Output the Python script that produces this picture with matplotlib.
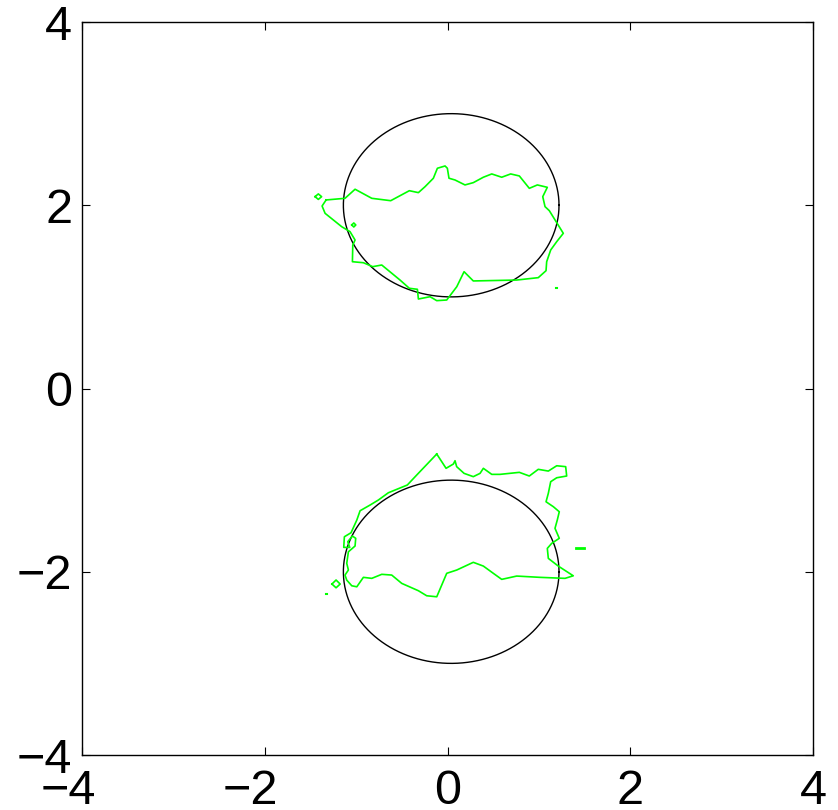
import numpy as np
import matplotlib
matplotlib.use("Agg")
from matplotlib import pyplot as plt
import matplotlib.transforms as mtransforms

plt.rcParams["font.family"] = ["Liberation Sans", "DejaVu Sans"]

# reference circles (centre x, centre y, radius x, radius y)
circle_top = (0.04, 2.0, 1.18, 1.0)
circle_bottom = (0.04, -2.0, 1.18, 1.0)

# upper green contour
top_x = [-1.329, -1.122, -1.012, -0.829, -0.622, -0.418, -0.319, -0.246, -0.155, -0.111,
         -0.027, -0.002, 0.016, 0.082, 0.191, 0.282, 0.392, 0.484, 0.593, 0.691,
         0.786, 0.895, 0.983, 1.092, 1.042, 1.067, 1.114, 1.267, 1.195, 1.129,
         1.085, 1.078, 0.993, 0.757, 0.282, 0.181, 0.101, -0.009, -0.118, -0.191,
         -0.319, -0.330, -0.418, -0.520, -0.720, -0.819, -0.921, -1.041, -1.037, -1.012,
         -1.067, -1.158, -1.249, -1.340, -1.373, -1.329]
top_y = [2.058, 2.076, 2.175, 2.076, 2.050, 2.159, 2.138, 2.203, 2.295, 2.404,
         2.429, 2.404, 2.295, 2.276, 2.222, 2.247, 2.306, 2.342, 2.306, 2.342,
         2.320, 2.185, 2.222, 2.196, 2.094, 1.985, 1.941, 1.694, 1.603, 1.512,
         1.384, 1.286, 1.210, 1.184, 1.174, 1.275, 1.111, 0.966, 0.959, 1.002,
         0.977, 1.083, 1.094, 1.184, 1.348, 1.330, 1.373, 1.384, 1.566, 1.621,
         1.712, 1.766, 1.839, 1.912, 1.992, 2.058]

# lower green contour
bot_x = [-0.118, -0.016, 0.064, 0.082, 0.100, 0.181, 0.282, 0.356, 0.392, 0.484,
         0.574, 0.786, 0.895, 0.993, 1.103, 1.195, 1.293, 1.304, 1.195, 1.129,
         1.103, 1.078, 1.158, 1.223, 1.201, 1.176, 1.223, 1.140, 1.092, 1.103,
         1.212, 1.376, 1.286, 1.012, 0.757, 0.593, 0.501, 0.392, 0.282, 0.101,
         -0.009, -0.118, -0.228, -0.319, -0.501, -0.611, -0.720, -0.829, -0.921, -0.993,
         -1.048, -1.103, -1.122, -1.085, -1.103, -1.085, -1.012, -1.005, -1.041, -1.092,
         -1.070, -1.136, -1.129, -1.056, -0.993, -0.957, -0.848, -0.757, -0.648, -0.440,
         -0.337, -0.118]
bot_y = [-0.715, -0.871, -0.824, -0.788, -0.853, -0.926, -0.962, -0.926, -0.871, -0.937,
         -0.937, -0.915, -0.955, -0.882, -0.901, -0.843, -0.853, -0.955, -0.974, -1.017,
         -1.144, -1.236, -1.290, -1.345, -1.436, -1.526, -1.635, -1.690, -1.745, -1.854,
         -1.938, -2.044, -2.072, -2.061, -2.047, -2.083, -2.017, -1.938, -1.897, -1.981,
         -2.017, -2.273, -2.262, -2.207, -2.127, -2.036, -2.028, -2.072, -2.061, -2.164,
         -2.153, -2.091, -2.036, -1.981, -1.908, -1.782, -1.719, -1.635, -1.610, -1.672,
         -1.734, -1.734, -1.618, -1.574, -1.436, -1.334, -1.272, -1.217, -1.138, -1.053,
         -0.944, -0.715]

# small isolated contour pieces
blob1_x = [-1.450, -1.414, -1.378, -1.414, -1.450]
blob1_y = [2.094, 2.124, 2.094, 2.064, 2.094]
blob2_x = [-1.048, -1.026, -1.004, -1.026, -1.048]
blob2_y = [1.785, 1.807, 1.785, 1.763, 1.785]
blob3_x = [-1.265, -1.22, -1.175, -1.22, -1.265]
blob3_y = [-2.134, -2.09, -2.134, -2.175, -2.134]
dot1_x = [1.19, 1.20]
dot1_y = [1.094, 1.094]
dot2_x = [-1.334, -1.324]
dot2_y = [-2.243, -2.243]
dash_x = [1.405, 1.496]
dash_y = [-1.738, -1.738]

ticks = [-4, -2, 0, 2, 4]
tick_labels = ["\u22124", "\u22122", "0", "2", "4"]

fig = plt.figure(figsize=(8.38, 8.10), dpi=100)
ax = fig.add_axes([0.0979, 0.0679, 0.8723, 0.9049])

t = np.linspace(0, 2 * np.pi, 400)
for cx, cy, rx, ry in [circle_top, circle_bottom]:
    ax.plot(cx + rx * np.cos(t), cy + ry * np.sin(t), color="black", lw=1.0)

green = "#00ff00"
ax.plot(top_x, top_y, color=green, lw=1.2)
ax.plot(bot_x, bot_y, color=green, lw=1.2)
for bx, by in [(blob1_x, blob1_y), (blob2_x, blob2_y), (blob3_x, blob3_y)]:
    ax.plot(bx, by, color=green, lw=1.2)
ax.plot(dot1_x, dot1_y, color=green, lw=1.5)
ax.plot(dot2_x, dot2_y, color=green, lw=1.5)
ax.plot(dash_x, dash_y, color=green, lw=2.0)

ax.set_xlim(-4, 4)
ax.set_ylim(-4, 4)
ax.set_xticks(ticks, tick_labels)
ax.set_yticks(ticks, tick_labels)
ax.tick_params(direction="in", top=True, right=True, length=6, width=0.8,
               labelsize=35)
ax.tick_params(axis="x", pad=10)
ax.tick_params(axis="y", pad=7)
for s in ax.spines.values():
    s.set_linewidth(1.0)

# digits centred on the tick, minus sign hanging to the left (matlab style)
shift = mtransforms.ScaledTranslation(-14 / 100, 0, fig.dpi_scale_trans)
for tick, lab in zip(ax.xaxis.get_major_ticks(), tick_labels):
    if lab.startswith("\u2212"):
        tick.label1.set_transform(tick.label1.get_transform() + shift)

fig.savefig("out.png", dpi=100)
